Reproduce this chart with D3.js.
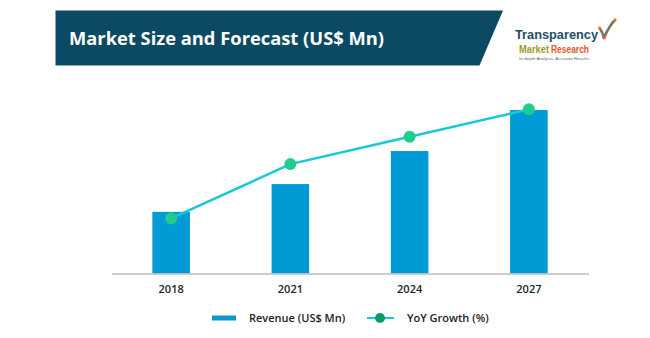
<!DOCTYPE html>
<html>
<head>
<meta charset="utf-8">
<script src="https://cdn.jsdelivr.net/npm/d3@7"></script>
<style>
  body { margin: 0; background: #fff; }
  svg { display: block; font-family: "Open Sans", "Noto Sans", sans-serif; }
</style>
</head>
<body>
<div id="chart"></div>
<script>
const years = ["2018", "2021", "2024", "2027"];
const revenue = [377, 547, 749, 1000];
const yoyGrowth = [3.37, 6.69, 8.36, 10.04];
const legendLabels = ["Revenue (US$ Mn)", "YoY Growth (%)"];
const title = "Market Size and Forecast (US$ Mn)";

const W = 650, H = 338;
const plot = {left: 111.5, right: 588.5, top: 110, bottom: 273.5};

const svg = d3.select("#chart")
    .append("svg")
    .attr("width", W)
    .attr("height", H);

// banner
svg.append("path")
    .attr("d", "M55.5,10.5 L503,10.5 L479.5,65.5 L55.5,65.5 Z")
    .attr("fill", "#0b4a62");
svg.append("text")
    .attr("x", 69)
    .attr("y", 45)
    .attr("fill", "#fff")
    .attr("font-size", 18.5)
    .attr("font-weight", "bold")
    .attr("textLength", 315).attr("lengthAdjust", "spacingAndGlyphs")
    .text(title);

// logo
const logo = svg.append("g")
    .attr("font-family", "'Liberation Sans Narrow', 'Liberation Sans', sans-serif")
    .attr("font-weight", "bold");
logo.append("text")
    .attr("x", 515).attr("y", 38.5)
    .attr("font-size", 12.5)
    .attr("fill", "#1d4e63")
    .attr("textLength", 83).attr("lengthAdjust", "spacingAndGlyphs")
    .text("Transparency");
logo.append("text")
    .attr("x", 519).attr("y", 52.5)
    .attr("font-size", 10)
    .attr("fill", "#9c9a2c")
    .attr("textLength", 30).attr("lengthAdjust", "spacingAndGlyphs")
    .text("Market");
logo.append("text")
    .attr("x", 551).attr("y", 52.5)
    .attr("font-size", 10)
    .attr("fill", "#e2582b")
    .attr("textLength", 38).attr("lengthAdjust", "spacingAndGlyphs")
    .text("Research");
logo.append("text")
    .attr("x", 519).attr("y", 59.5)
    .attr("font-size", 4.2)
    .attr("font-weight", "normal")
    .attr("fill", "#666")
    .attr("textLength", 70).attr("lengthAdjust", "spacingAndGlyphs")
    .text("In-depth Analysis. Accurate Results");
logo.append("path")
    .attr("d", "M599,27 Q603,33 604,39 Q608,27 616,19")
    .attr("fill", "none").attr("stroke", "#e8612c").attr("stroke-width", 2.5);
logo.append("path")
    .attr("d", "M601,29 L604,36 L613,21")
    .attr("fill", "none").attr("stroke", "#2f8e8a").attr("stroke-width", 1.5);

// scales
const x = d3.scaleBand()
    .domain(years)
    .range([plot.left, plot.right])
    .paddingInner(0.685)
    .paddingOuter(0.3425);
const yRev = d3.scaleLinear()
    .domain([0, 1000])
    .range([plot.bottom, plot.top]);
const yYoy = d3.scaleLinear()
    .domain([0, 10])
    .range([plot.bottom, plot.top]);

// bars
svg.append("g")
    .selectAll("rect")
    .data(years)
    .join("rect")
    .attr("x", d => x(d))
    .attr("y", (d, i) => yRev(revenue[i]))
    .attr("width", x.bandwidth())
    .attr("height", (d, i) => yRev(0) - yRev(revenue[i]))
    .attr("fill", "#009bd6");

// x axis
const xAxis = svg.append("g")
    .attr("transform", `translate(0, ${plot.bottom})`)
    .call(d3.axisBottom(x).tickSize(0).tickPadding(12));
xAxis.select(".domain").attr("stroke", "#bdbdbd").attr("stroke-width", 1.5);
xAxis.selectAll("text")
    .attr("font-size", 11)
    .attr("font-weight", 600)
    .attr("fill", "#222")
    .attr("font-family", "'Open Sans', sans-serif");

// yoy line
const cx = d => x(d) + x.bandwidth() / 2;
svg.append("path")
    .datum(years)
    .attr("fill", "none")
    .attr("stroke", "#17c9d6")
    .attr("stroke-width", 2.5)
    .attr("d", d3.line()
        .x(d => cx(d))
        .y((d, i) => yYoy(yoyGrowth[i])));
svg.append("g")
    .selectAll("circle")
    .data(years)
    .join("circle")
    .attr("cx", d => cx(d))
    .attr("cy", (d, i) => yYoy(yoyGrowth[i]))
    .attr("r", 6)
    .attr("fill", "#1fcb8f");

// legend
const lg = svg.append("g").attr("font-size", 11).attr("font-weight", 600).attr("fill", "#222");
lg.append("rect")
    .attr("x", 212).attr("y", 315.5)
    .attr("width", 24).attr("height", 5)
    .attr("fill", "#009bd6");
lg.append("text").attr("x", 249).attr("y", 322).text(legendLabels[0]);
lg.append("line")
    .attr("x1", 367).attr("x2", 394)
    .attr("y1", 318).attr("y2", 318)
    .attr("stroke", "#17c9d6").attr("stroke-width", 2);
lg.append("circle")
    .attr("cx", 380).attr("cy", 318).attr("r", 5)
    .attr("fill", "#0f9a6e");
lg.append("text").attr("x", 407).attr("y", 322).text(legendLabels[1]);
</script>
</body>
</html>
